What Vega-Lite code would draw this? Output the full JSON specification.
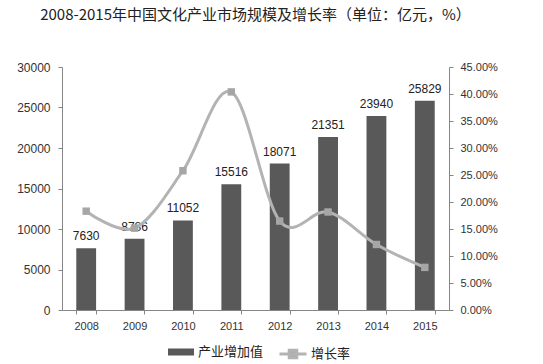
{
  "$schema": "https://vega.github.io/schema/vega-lite/v6.json",
  "autosize": {"type": "none"},
  "width": 387,
  "height": 243,
  "padding": {"left": 62, "top": 67, "right": 94, "bottom": 54},
  "background": "white",
  "config": {
    "view": {"stroke": null},
    "font": "Liberation Sans",
    "axis": {"grid": false, "domainColor": "#868686", "tickColor": "#868686", "labelColor": "#333333", "labelFontSize": 11, "labelFont": "Liberation Sans", "tickSize": 4, "titleFontSize": 11}
  },
  "title": {
    "text": "2008-2015年中国文化产业市场规模及增长率（单位：亿元，%）",
    "font": "Noto Sans CJK SC",
    "fontSize": 15,
    "fontWeight": "normal",
    "color": "#222222",
    "anchor": "middle",
    "frame": "group",
    "baseline": "middle",
    "offset": 31
  },
  "data": {
    "values": [
      {"year": "2008", "value": 7630, "rate": 0.183},
      {"year": "2009", "value": 8786, "rate": 0.1515},
      {"year": "2010", "value": 11052, "rate": 0.2579},
      {"year": "2011", "value": 15516, "rate": 0.4039},
      {"year": "2012", "value": 18071, "rate": 0.1647},
      {"year": "2013", "value": 21351, "rate": 0.1815},
      {"year": "2014", "value": 23940, "rate": 0.1213},
      {"year": "2015", "value": 25829, "rate": 0.0789}
    ]
  },
  "encoding": {
    "x": {
      "field": "year",
      "type": "nominal",
      "sort": null,
      "title": null,
      "scale": {"paddingInner": 0.59, "paddingOuter": 0.295},
      "axis": {"labelAngle": 0, "tickBand": "extent", "labelPadding": 6, "labelFontSize": 11}
    }
  },
  "layer": [
    {
      "encoding": {
        "y": {
          "field": "value",
          "type": "quantitative",
          "title": null,
          "scale": {"domain": [0, 30000], "nice": false},
          "axis": {"values": [0, 5000, 10000, 15000, 20000, 25000, 30000], "format": "d", "labelPadding": 8, "labelFontSize": 12, "orient": "left"}
        }
      },
      "layer": [
        {
          "mark": {"type": "bar"},
          "encoding": {
            "fill": {
              "datum": "产业增加值",
              "scale": {"range": ["#595959"]},
              "legend": {
                "orient": "none", "legendX": 106, "legendY": 272,
                "title": null,
                "symbolType": "M-1,-0.27H1V0.27H-1Z",
                "symbolSize": 676,
                "symbolStrokeWidth": 0,
                "labelFont": "Noto Sans CJK SC",
                "labelFontSize": 13,
                "labelColor": "#222222",
                "labelOffset": 4
              }
            }
          }
        },
        {
          "mark": {"type": "text", "baseline": "bottom", "dy": -5, "fontSize": 12, "color": "#222222", "font": "Liberation Sans"},
          "encoding": {"text": {"field": "value", "type": "quantitative", "format": "d"}}
        }
      ]
    },
    {
      "encoding": {
        "y": {
          "field": "rate",
          "type": "quantitative",
          "title": null,
          "scale": {"domain": [0, 0.45], "nice": false},
          "axis": {"orient": "right", "format": ".2%", "values": [0, 0.05, 0.1, 0.15, 0.2, 0.25, 0.3, 0.35, 0.4, 0.45], "labelPadding": 7}
        }
      },
      "layer": [
        {
          "mark": {"type": "line", "interpolate": "cardinal", "tension": 0, "strokeWidth": 3},
          "encoding": {
            "stroke": {
              "datum": "增长率",
              "scale": {"range": ["#b3b3b3"]},
              "legend": {
                "orient": "none", "legendX": 216, "legendY": 272,
                "title": null,
                "symbolType": "M-1,0H1M-0.28,-0.28H0.28V0.28H-0.28Z",
                "symbolSize": 729,
                "symbolStrokeWidth": 3,
                "symbolFillColor": "#a6a6a6",
                "labelFont": "Noto Sans CJK SC",
                "labelFontSize": 13,
                "labelColor": "#222222",
                "labelOffset": 3
              }
            }
          }
        },
        {
          "mark": {"type": "point", "shape": "square", "filled": true, "size": 55, "color": "#a6a6a6", "opacity": 1}
        }
      ]
    }
  ],
  "resolve": {"scale": {"y": "independent"}}
}
